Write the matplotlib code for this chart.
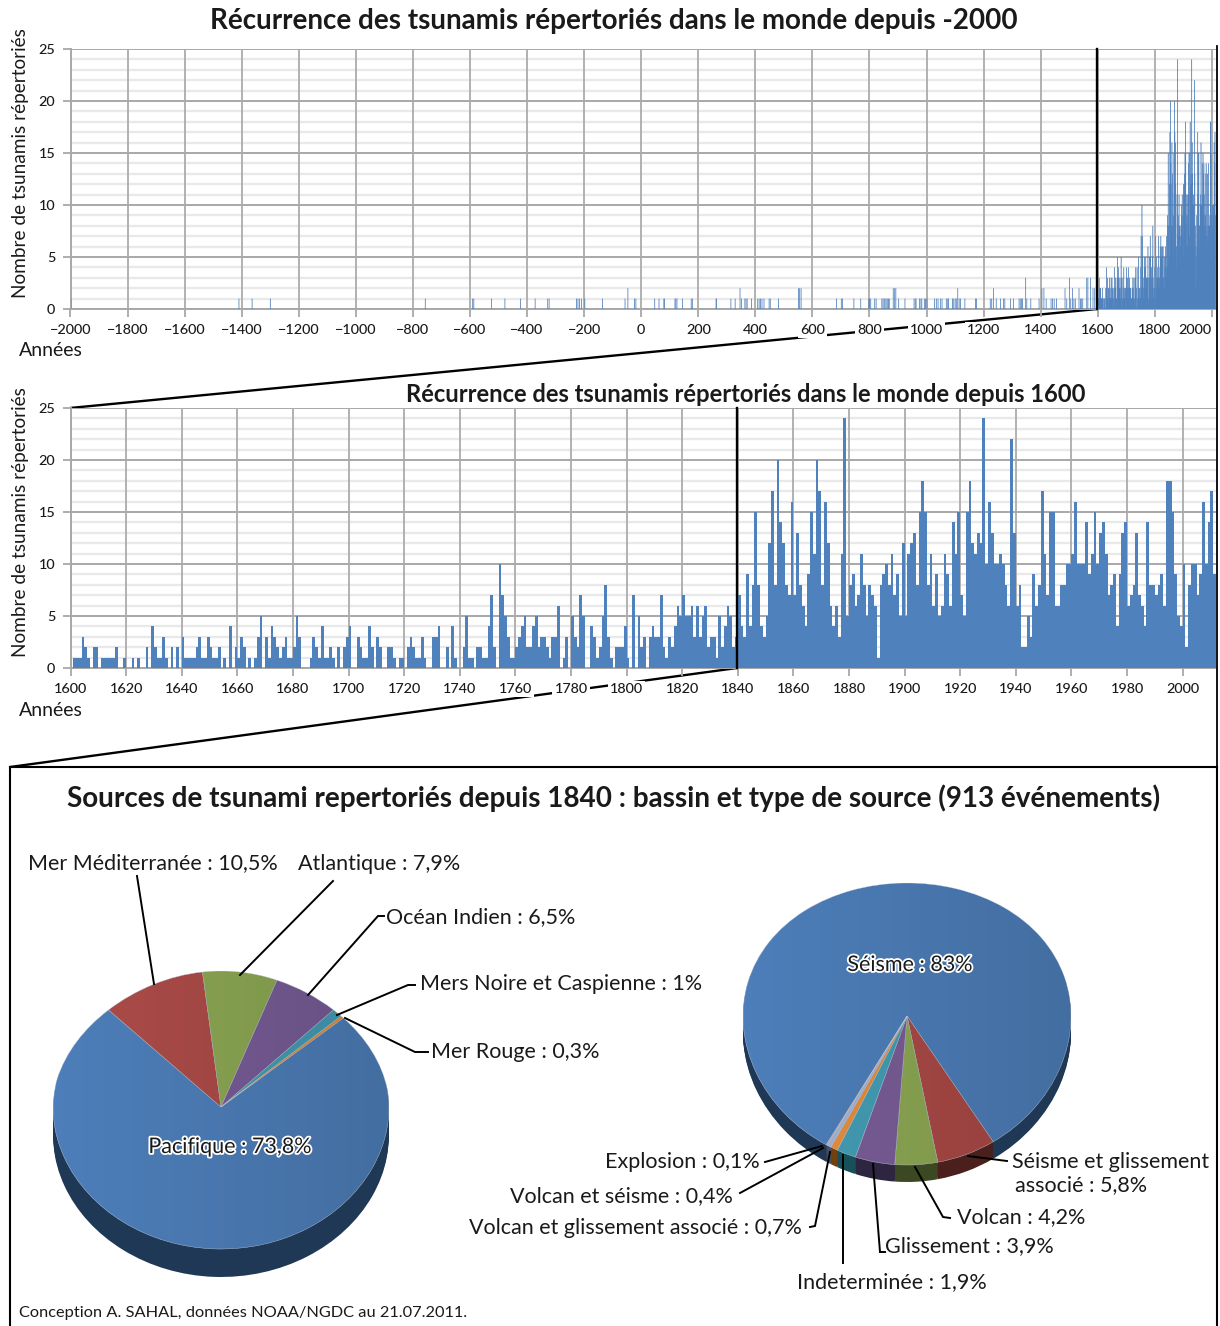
import numpy as np
import matplotlib
matplotlib.use("Agg")
import matplotlib.pyplot as plt
import matplotlib.patheffects as pe
from matplotlib.path import Path
from matplotlib.patches import PathPatch

plt.rcParams['font.family'] = ['Lato', 'DejaVu Sans']

W, H = 1220, 1326

# ---------- data ----------
counts_1600s = [0,1,1,1,3,2,1,0,2,2, 0,1,1,1,1,1,2,0,0,1, 0,0,1,0,1,0,0,2,0,4, 2,1,1,3,1,0,2,0,2,0,
                3,1,1,1,1,2,3,1,1,3, 2,1,1,2,0,1,0,4,0,2, 1,3,2,0,1,0,1,3,5,0, 3,1,4,3,2,1,2,3,1,1,
                2,5,3,0,0,0,1,3,2,1, 4,1,1,2,1,0,2,0,2,3]
counts_1700s = [4,0,0,3,2,1,1,4,2,0, 3,2,0,0,2,2,1,0,1,1, 0,2,3,2,1,1,3,1,0,0, 3,3,4,0,0,2,0,4,1,0,
                0,2,5,1,1,0,2,2,1,1, 4,7,2,0,10,7,5,3,1,1, 2,3,4,5,2,2,4,5,2,3, 3,2,1,3,3,6,0,1,3,0,
                5,3,2,7,5,0,0,4,3,1, 2,5,8,3,1,0,2,2,2,4]
counts_1800s = [1,0,7,0,5,2,3,0,3,4, 3,3,7,2,1,3,2,4,6,5, 7,5,5,6,3,6,3,5,6,2, 3,3,1,5,2,4,6,5,2,3,
                7,4,3,9,4,8,15,8,4,3, 5,12,17,8,20,14,12,8,7,16, 7,13,8,6,4,9,15,11,20,17,
                8,16,12,6,4,6,3,11,24,5, 8,9,6,7,11,8,5,8,7,6, 1,8,9,10,8,11,7,9,5,12]
counts_1900s = [5,11,12,13,8,15,18,15,8,11, 6,9,5,6,11,9,6,14,11,15, 7,5,15,18,12,11,13,12,24,10,
                16,13,10,10,11,10,8,6,22,13, 6,8,2,2,5,3,9,6,8,17, 11,7,15,15,6,6,8,8,10,10,
                11,16,10,10,10,14,9,11,15,10, 13,14,11,7,8,9,4,9,13,14, 6,7,8,13,7,6,4,14,8,8,
                7,8,9,6,18,18,15,9,5,4]
counts_2000s = [10,2,8,10,10,7,9,16,10,14,17,9]
counts_modern = counts_1600s + counts_1700s + counts_1800s + counts_1900s + counts_2000s
years_modern = np.arange(1600, 1600 + len(counts_modern))

years_ancient = [-2000,-1411,-1365,-1301,-758,-592,-588,-526,-479,-424,-373,-329,-324,-228,-223,-218,-211,-199,
                 -137,-58,-48,-25,-20,46,61,78,80,117,120,124,143,174,178,261,263,313,328,345,350,362,366,370,385,
                 407,412,417,422,429,447,451,480,550,554,559,683,700,704,744,768,796,799,803,817,822,
                 842,846,850,853,857,861,865,868,882,887,891,901,923,955,959,962,974,979,982,991,995,1000,
                 1027,1033,1039,1048,1053,1068,1073,1076,1090,1094,1099,1103,1108,1113,1118,1133,1170,1174,
                 1222,1227,1233,1243,1258,1268,1273,1293,1303,1323,1327,1331,1335,1346,1350,1364,1393,1403,1410,1418,
                 1435,1440,1446,1454,1484,1490,1500,1504,1510,1515,1520,1533,1538,1541,1546,1560,1564,1573,1582,1588]
counts_ancient = [1]*19 + [1,2] + [1]*16 + [2] + [1]*13 + [2,2,2] + [1]*10 + [1]*8 + [2,2,2] + [1]*14 \
                 + [1]*9 + [2] + [1]*7 + [2] + [1]*1 + [1]*9 + [3] + [1]*2 + [1,2,2,1] + [1]*4 \
                 + [2,1,3,1,2,1,1,2,1,1,1,3,3,3,2,2]
n_ancient = min(len(years_ancient), len(counts_ancient))
years_ancient = years_ancient[:n_ancient]
counts_ancient = counts_ancient[:n_ancient]

basin_labels = ['Pacifique', 'Mer Méditerranée', 'Atlantique', 'Océan Indien', 'Mers Noire et Caspienne', 'Mer Rouge']
basin_values = [73.8, 10.5, 7.9, 6.5, 1.0, 0.3]
basin_colors = ['#4F81BD', '#B04D4A', '#8FAB55', '#7A5E99', '#45A0B8', '#E8913F']
basin_sides = ['#1F3856', '#4A1F1C', '#3B4822', '#2E2540', '#16505A', '#70400F']

source_labels = ['Séisme', 'Séisme et glissement associé', 'Volcan', 'Glissement', 'Indeterminée',
                 'Volcan et glissement associé', 'Volcan et séisme', 'Explosion']
source_values = [83, 5.8, 4.2, 3.9, 1.9, 0.7, 0.4, 0.1]
source_colors = ['#4F81BD', '#AE4B48', '#8FAB55', '#7C5F9A', '#45A0B8', '#E8913F', '#A3B7DC', '#CBA3A2']
source_sides = ['#1F3856', '#4A1F1C', '#3B4822', '#2E2540', '#16505A', '#70400F', '#465066', '#5A4544']

y_ticks = [0, 5, 10, 15, 20, 25]
x_ticks_top = list(range(-2000, 2001, 200))
x_ticks_mid = list(range(1600, 2001, 20))

BAR = '#4F81BD'
INK = '#1A1A1A'

fig = plt.figure(figsize=(W / 100, H / 100), dpi=100, facecolor='white')


def pxaxes(l, t, r, b, **kw):
    return fig.add_axes([l / W, 1 - b / H, (r - l) / W, (b - t) / H], **kw)


# ---------- connectors underneath everything ----------
under = pxaxes(0, 0, W, H, zorder=-1)
under.set_xlim(0, W); under.set_ylim(H, 0); under.axis('off')
under.plot([1097, 70], [309, 408], color='black', lw=1.7, solid_capstyle='butt')
under.plot([737, 10], [668, 767], color='black', lw=1.7, solid_capstyle='butt')


def bar_axes(t, b, xlim, xticks, right):
    ax = pxaxes(70.5, t, right, b, zorder=2)
    ax.patch.set_alpha(0)
    ax.set_xlim(*xlim); ax.set_ylim(0, 25)
    ax.set_yticks(y_ticks)
    ax.set_yticks(np.arange(0, 26), minor=True)
    ax.set_xticks(xticks)
    ax.set_axisbelow(True)
    ax.yaxis.set_zorder(0.5)
    ax.xaxis.set_zorder(0.7)
    ax.grid(which='minor', axis='y', color='#E9E9E9', lw=1.7)
    ax.grid(which='major', axis='y', color='#A8A8A8', lw=1.4)
    ax.grid(which='major', axis='x', color='#ABABAB', lw=1.3)
    for s in ax.spines.values():
        s.set_visible(False)
    ax.spines['bottom'].set_visible(True); ax.spines['bottom'].set_color('#A8A8A8'); ax.spines['bottom'].set_linewidth(1.4)
    ax.spines['left'].set_visible(True); ax.spines['left'].set_color('#A8A8A8'); ax.spines['left'].set_linewidth(1.4)
    ax.tick_params(which='minor', length=0)
    ax.tick_params(which='major', color='#A8A8A8', length=6, width=1.3, labelsize=10.4, labelcolor=INK, pad=5)
    for lab in ax.get_xticklabels() + ax.get_yticklabels():
        lab.set_fontweight(500)
    for lab in ax.get_xticklabels():
        lab.set_bbox(dict(facecolor='white', edgecolor='none', pad=1.5))
    ax.set_ylabel('Nombre de tsunamis répertoriés', fontsize=13.7, color=INK, labelpad=0)
    ax.yaxis.set_label_coords(-41 / (right - 70.5), 0.56)
    return ax


# ---------- top chart ----------
ax1 = bar_axes(49, 309, (-2000, 2014.5), x_ticks_top, 1216)
ax1.bar(years_ancient, counts_ancient, width=2.8, align='edge', color=BAR, linewidth=0, zorder=3, snap=False)
ax1.bar(years_modern, counts_modern, width=2.6, align='edge', color=BAR, linewidth=0, zorder=3, snap=False)
lab2000 = ax1.get_xticklabels()[-1]
lab2000.set_ha('right')

# ---------- middle chart ----------
ax2 = bar_axes(408, 668, (1600, 2012), x_ticks_mid, 1216)
edges_modern = np.append(years_modern, years_modern[-1] + 1)
ax2.stairs(counts_modern, edges_modern, fill=True, color=BAR, linewidth=0, zorder=3)
ax1.stairs(counts_modern, edges_modern, fill=True, color=BAR, linewidth=0, zorder=3, snap=False)


# ---------- pies ----------
def warped(path, s, p, y0=0.0):
    x, y = path.vertices.T
    yy = y - y0
    y_new = y + s * (1 - np.minimum(yy * yy, 1))
    x_new = x * (1 - p * np.where(yy > 0, np.minimum(yy * yy, 1), 0))
    return Path(np.column_stack([x_new, y_new]), path.codes)


def warp_pie(ax, wedges, s, p, y0=0.0, **kw):
    for w in wedges:
        ax.add_patch(PathPatch(warped(w.get_path(), s, p, y0), facecolor=w.get_facecolor(), **kw))
        w.remove()


def pie3d(cx, cy, a, b, depth, values, colors, sides, start, apex, p):
    d = depth / b
    s = apex / b
    ax = pxaxes(cx - a, cy - b, cx + a, cy + b + depth + 1, zorder=2)
    for off in np.linspace(d, 0.005, 14):
        wedges, _ = ax.pie(values, colors=sides, startangle=start, counterclock=False, center=(0, -off))
        warp_pie(ax, wedges, s, p, -off, linewidth=0)
    wedges, _ = ax.pie(values, colors=colors, startangle=start, counterclock=False, center=(0, 0))
    warp_pie(ax, wedges, s, p, 0.0, linewidth=0.3, edgecolor='#C8D4E4')
    ax.set_aspect('auto')
    shade = np.zeros((2, 200, 4))
    shade[..., 3] = 0.02 + 0.13 * np.linspace(0, 1, 200)
    im = ax.imshow(shade, extent=(-1, 1, -1, 1), aspect='auto', zorder=5)
    im.set_clip_path(warped(Path.unit_circle(), s, p), transform=ax.transData)
    ax.set_xlim(-1, 1); ax.set_ylim(-1 - (depth + 1) / b, 1)
    ax.axis('off')
    return ax


pie3d(221, 1110, 168, 139, 28, basin_values, basin_colors, basin_sides, 40.5, 3, 0.1)
pie3d(907, 1024, 164, 141, 17, source_values, source_colors, source_sides, 240.5, 8, 0.0)

# ---------- overlay: frame, cut lines, text ----------
ov = pxaxes(0, 0, W, H, zorder=10)
ov.set_xlim(0, W); ov.set_ylim(H, 0); ov.axis('off'); ov.patch.set_alpha(0)

ov.plot([1097, 1097], [49, 309], color='black', lw=1.7)
ov.plot([737, 737], [408, 668], color='black', lw=1.7)
ov.plot([1217, 1217], [46, 767], color='black', lw=1.3)
ov.plot([10, 1217], [767, 767], color='black', lw=1.5)
ov.plot([10, 10], [767, 1326], color='black', lw=1.5)
ov.plot([1217, 1217], [767, 1326], color='black', lw=1.5)

leaders = [
    ([137, 154], [876, 984]),
    ([333, 240], [881, 975]),
    ([384, 378, 308], [916, 916, 995]),
    ([415, 408, 337], [985, 985, 1015]),
    ([428, 415, 345], [1052, 1052, 1018]),
    ([765, 822], [1162, 1146]),
    ([740, 823], [1193, 1148]),
    ([810, 815, 830], [1227, 1226, 1152]),
    ([843, 843], [1263, 1155]),
    ([885, 880, 873], [1252, 1252, 1164]),
    ([950, 943, 915], [1218, 1217, 1167]),
    ([1007, 968], [1161, 1156]),
]
for xs, ys in leaders:
    ov.plot(xs, ys, color='black', lw=1.4, solid_joinstyle='miter')

t_kw = dict(color=INK, va='center')
ov.text(614, 21.5, 'Récurrence des tsunamis répertoriés dans le monde depuis -2000', ha='center', fontsize=20, weight='bold', **t_kw)
ov.text(746, 395, 'Récurrence des tsunamis répertoriés dans le monde depuis 1600', ha='center', fontsize=17.1, weight='bold', **t_kw)
ov.text(614, 798, 'Sources de tsunami repertoriés depuis 1840 : bassin et type de source (913 événements)', ha='center', fontsize=20.1, weight='bold', **t_kw)
ov.text(19, 351, 'Années', ha='left', fontsize=14, **t_kw)
ov.text(19, 711, 'Années', ha='left', fontsize=14, **t_kw)
ov.text(19, 1313, 'Conception A. SAHAL, données NOAA/NGDC au 21.07.2011.', ha='left', fontsize=11.8, **t_kw)

FS = 15.5
labels = [
    (28, 862, 'left', f'{basin_labels[1]} : 10,5%'),
    (298, 863, 'left', f'{basin_labels[2]} : 7,9%'),
    (386, 916, 'left', f'{basin_labels[3]} : 6,5%'),
    (420, 982, 'left', f'{basin_labels[4]} : 1%'),
    (431, 1050, 'left', f'{basin_labels[5]} : 0,3%'),
    (605, 1160, 'left', f'{source_labels[7]} : 0,1%'),
    (510, 1195, 'left', f'{source_labels[6]} : 0,4%'),
    (469, 1227, 'left', f'{source_labels[5]} : 0,7%'),
    (797, 1281, 'left', f'{source_labels[4]} : 1,9%'),
    (885, 1245, 'left', f'{source_labels[3]} : 3,9%'),
    (957, 1216, 'left', f'{source_labels[2]} : 4,2%'),
    (1012, 1160, 'left', 'Séisme et glissement'),
    (1015, 1184, 'left', 'associé : 5,8%'),
]
for x, y, ha, s in labels:
    ov.text(x, y + 1.5, s, ha=ha, fontsize=FS, **t_kw)

halo = [pe.withStroke(linewidth=2.6, foreground='white')]
ov.text(230, 1147, f'{basin_labels[0]} : 73,8%', ha='center', fontsize=FS, path_effects=halo, **t_kw)
ov.text(910, 965, f'{source_labels[0]} : 83%', ha='center', fontsize=FS, path_effects=halo, **t_kw)

fig.savefig('out.png', dpi=100, facecolor='white')
